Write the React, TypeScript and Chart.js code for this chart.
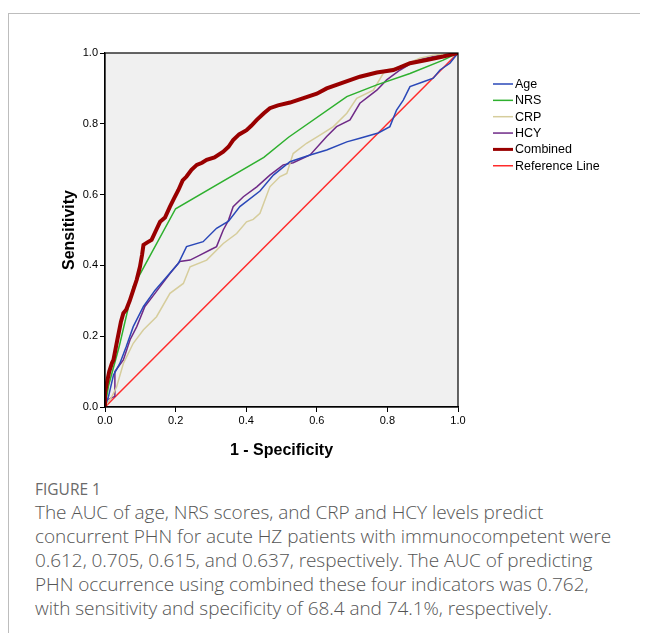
import React, { useEffect, useRef } from "react";
import { Chart, registerables } from "chart.js";

Chart.register(...registerables);

// ---- Data ----
const seriesLabels = ["Age", "NRS", "CRP", "HCY", "Combined", "Reference Line"];
const seriesColors = ["#2a48b8", "#2eb02e", "#d6cd9c", "#6f2a87", "#990000", "#ff2b2b"];
const seriesWidths = [1.5, 1.5, 1.5, 1.5, 4, 1.5];

const ageFpr = [0, 0.01, 0.024, 0.042, 0.06, 0.08, 0.109, 0.142, 0.175, 0.208, 0.231, 0.278, 0.316, 0.35, 0.382, 0.439, 0.477, 0.524, 0.581, 0.628, 0.685, 0.722, 0.774, 0.807, 0.826, 0.845, 0.864, 0.902, 0.93, 0.949, 0.977, 1];
const ageTpr = [0, 0.03, 0.09, 0.123, 0.17, 0.227, 0.284, 0.33, 0.368, 0.406, 0.453, 0.467, 0.505, 0.525, 0.566, 0.61, 0.655, 0.693, 0.712, 0.726, 0.749, 0.759, 0.774, 0.792, 0.839, 0.867, 0.905, 0.919, 0.929, 0.952, 0.971, 1];

const nrsFpr = [0, 0.01, 0.04, 0.08, 0.2, 0.45, 0.52, 0.685, 0.77, 0.864, 0.958, 1];
const nrsTpr = [0, 0.06, 0.17, 0.34, 0.56, 0.705, 0.762, 0.877, 0.91, 0.942, 0.98, 1];

const crpFpr = [0, 0.009, 0.02, 0.033, 0.052, 0.08, 0.109, 0.146, 0.184, 0.222, 0.241, 0.288, 0.335, 0.373, 0.401, 0.42, 0.439, 0.467, 0.496, 0.515, 0.533, 0.571, 0.609, 0.647, 0.685, 0.713, 0.76, 0.788, 0.798, 0.836, 0.892, 0.93, 1];
const crpTpr = [0, 0.015, 0.03, 0.057, 0.123, 0.18, 0.218, 0.255, 0.321, 0.349, 0.396, 0.415, 0.462, 0.49, 0.523, 0.53, 0.547, 0.622, 0.651, 0.66, 0.716, 0.745, 0.768, 0.792, 0.83, 0.872, 0.895, 0.942, 0.952, 0.961, 0.985, 0.994, 1];

const hcyFpr = [0, 0.005, 0.028, 0.028, 0.052, 0.071, 0.09, 0.113, 0.127, 0.156, 0.184, 0.212, 0.241, 0.269, 0.3, 0.316, 0.335, 0.35, 0.363, 0.392, 0.43, 0.467, 0.505, 0.533, 0.581, 0.628, 0.656, 0.694, 0.722, 0.77, 0.798, 0.836, 0.883, 0.949, 1];
const hcyTpr = [0, 0.02, 0.03, 0.1, 0.133, 0.19, 0.227, 0.284, 0.302, 0.34, 0.377, 0.411, 0.415, 0.429, 0.445, 0.453, 0.5, 0.528, 0.566, 0.594, 0.622, 0.655, 0.684, 0.69, 0.712, 0.764, 0.792, 0.811, 0.858, 0.895, 0.924, 0.952, 0.98, 0.994, 1];

const combinedFpr = [0, 0, 0.005, 0.012, 0.02, 0.024, 0.035, 0.045, 0.052, 0.06, 0.07, 0.08, 0.09, 0.099, 0.105, 0.109, 0.12, 0.132, 0.145, 0.156, 0.17, 0.184, 0.196, 0.208, 0.22, 0.231, 0.245, 0.26, 0.275, 0.288, 0.31, 0.335, 0.35, 0.363, 0.38, 0.401, 0.415, 0.43, 0.45, 0.467, 0.49, 0.524, 0.56, 0.6, 0.628, 0.67, 0.722, 0.77, 0.817, 0.864, 0.911, 0.958, 1];
const combinedTpr = [0, 0.04, 0.067, 0.1, 0.125, 0.133, 0.19, 0.24, 0.265, 0.275, 0.3, 0.33, 0.36, 0.396, 0.43, 0.458, 0.465, 0.472, 0.5, 0.523, 0.535, 0.566, 0.59, 0.613, 0.64, 0.651, 0.67, 0.684, 0.69, 0.698, 0.705, 0.721, 0.735, 0.754, 0.77, 0.782, 0.795, 0.811, 0.83, 0.844, 0.852, 0.86, 0.872, 0.885, 0.9, 0.915, 0.933, 0.945, 0.952, 0.971, 0.98, 0.99, 1];

const referenceFpr = [0, 1];
const referenceTpr = [0, 1];

const xTicks = [0, 0.2, 0.4, 0.6, 0.8, 1.0];
const yTicks = [0, 0.2, 0.4, 0.6, 0.8, 1.0];

const xTitle = "1 - Specificity";
const yTitle = "Sensitivity";
const figureLabel = "FIGURE 1";
const captionLines = [
  "The AUC of age, NRS scores, and CRP and HCY levels predict",
  "concurrent PHN for acute HZ patients with immunocompetent were",
  "0.612, 0.705, 0.615, and 0.637, respectively. The AUC of predicting",
  "PHN occurrence using combined these four indicators was 0.762,",
  "with sensitivity and specificity of 68.4 and 74.1%, respectively.",
];

const seriesX = [ageFpr, nrsFpr, crpFpr, hcyFpr, combinedFpr, referenceFpr];
const seriesY = [ageTpr, nrsTpr, crpTpr, hcyTpr, combinedTpr, referenceTpr];

const FONT = "'Liberation Sans', Arial, Helvetica, sans-serif";

const frameAndBgPlugin = {
  id: "frameAndBg",
  beforeDraw(chart: any) {
    const { ctx, chartArea: a } = chart;
    ctx.save();
    ctx.fillStyle = "#f0f0f0";
    ctx.fillRect(a.left, a.top, a.right - a.left, a.bottom - a.top);
    ctx.restore();
  },
  afterDraw(chart: any) {
    const { ctx, chartArea: a } = chart;
    ctx.save();
    ctx.strokeStyle = "#000";
    ctx.lineWidth = 1.2;
    ctx.strokeRect(a.left, a.top, a.right - a.left, a.bottom - a.top);
    ctx.restore();
  },
};

const legendPlugin = {
  id: "customLegend",
  afterDraw(chart: any) {
    const { ctx } = chart;
    const x0 = 485;
    const y0 = 76;
    const step = 16.35;
    ctx.save();
    ctx.font = `12.5px ${FONT}`;
    ctx.textBaseline = "middle";
    ctx.textAlign = "left";
    seriesLabels.forEach((lab, i) => {
      const y = y0 + i * step;
      ctx.strokeStyle = seriesColors[i];
      ctx.lineWidth = i === 4 ? 3 : 1.5;
      ctx.beginPath();
      ctx.moveTo(x0, y);
      ctx.lineTo(x0 + 20, y);
      ctx.stroke();
      ctx.fillStyle = "#000";
      ctx.fillText(lab, x0 + 22, y + 0.5);
    });
    ctx.restore();
  },
};

function RocChart() {
  const ref = useRef<HTMLCanvasElement | null>(null);
  useEffect(() => {
    if (!ref.current) return;
    const datasets = seriesLabels.map((lab, i) => ({
      label: lab,
      data: seriesX[i].map((x, j) => ({ x, y: seriesY[i][j] })),
      borderColor: seriesColors[i],
      backgroundColor: seriesColors[i],
      borderWidth: seriesWidths[i],
      pointRadius: 0,
      showLine: true,
      tension: 0,
      fill: false,
      order: i === 4 ? 0 : i === 5 ? 6 : 1,
    }));
    const chart = new Chart(ref.current, {
      type: "scatter",
      data: { datasets },
      options: {
        animation: false,
        responsive: false,
        maintainAspectRatio: false,
        events: [],
        layout: { padding: { left: 48, top: 45, right: 170, bottom: 0 } },
        plugins: { legend: { display: false }, tooltip: { enabled: false } },
        scales: {
          x: {
            type: "linear",
            min: 0,
            max: 1,
            afterFit: (s: any) => {
              s.height = 57;
            },
            afterBuildTicks: (s: any) => {
              s.ticks = xTicks.map((v) => ({ value: v }));
            },
            ticks: {
              color: "#000",
              font: { family: FONT, size: 11 },
              padding: 2,
              maxRotation: 0,
              callback: (v: any) => Number(v).toFixed(1),
            },
            grid: {
              drawOnChartArea: false,
              drawTicks: true,
              tickLength: 5,
              color: "#000",
              tickColor: "#000",
            },
            border: { display: true, color: "#000", width: 1.2 },
            title: {
              display: true,
              text: xTitle,
              color: "#000",
              font: { family: FONT, size: 16, weight: "bold" },
            },
          },
          y: {
            type: "linear",
            min: 0,
            max: 1,
            afterFit: (s: any) => {
              s.width = 49;
            },
            afterBuildTicks: (s: any) => {
              s.ticks = yTicks.map((v) => ({ value: v }));
            },
            ticks: {
              color: "#000",
              font: { family: FONT, size: 11 },
              padding: 2,
              callback: (v: any) => Number(v).toFixed(1),
            },
            grid: {
              drawOnChartArea: false,
              drawTicks: true,
              tickLength: 5,
              color: "#000",
              tickColor: "#000",
            },
            border: { display: true, color: "#000", width: 1.2 },
            title: {
              display: true,
              text: yTitle,
              color: "#000",
              font: { family: FONT, size: 16, weight: "bold" },
            },
          },
        },
      },
      plugins: [frameAndBgPlugin, legendPlugin],
    } as any);
    return () => chart.destroy();
  }, []);
  return <canvas ref={ref} width={620} height={456} style={{ display: "block", width: 620, height: 456 }} />;
}

export default function App() {
  useEffect(() => {
    document.documentElement.style.overflow = "hidden";
    document.body.style.overflow = "hidden";
  }, []);
  return (
    <div style={{ position: "relative", width: 632, height: 625 }}>
      <div
        style={{
          position: "absolute",
          left: 0,
          top: 5,
          width: 640,
          height: 640,
          borderTop: "1px solid #bdbdbd",
          borderLeft: "1px solid #bdbdbd",
          boxSizing: "border-box",
        }}
      />
      <div style={{ position: "absolute", left: 0, top: 0 }}>
        <RocChart />
      </div>
      <div
        style={{
          position: "absolute",
          left: 27,
          top: 470,
          fontFamily: "'Open Sans', sans-serif",
          color: "#555",
          whiteSpace: "nowrap",
        }}
      >
        <div style={{ fontSize: 15.5, lineHeight: "22px", color: "#6a6a6a", fontWeight: 400 }}>{figureLabel}</div>
        <div style={{ fontSize: 19, lineHeight: "24px", fontWeight: 300, marginTop: 0, letterSpacing: -0.05 }}>
          {captionLines.map((l, i) => (
            <div key={i}>{l}</div>
          ))}
        </div>
      </div>
    </div>
  );
}
